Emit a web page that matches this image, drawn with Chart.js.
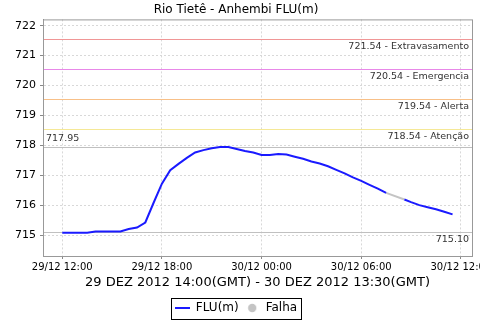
<!DOCTYPE html>
<html>
<head>
<meta charset="utf-8">
<script src="https://cdn.jsdelivr.net/npm/chart.js@4.4.0/dist/chart.umd.min.js"></script>
<style>
  html, body { margin: 0; padding: 0; background: #fff; overflow: hidden; }
  #wrap { width: 480px; height: 324px; }
</style>
</head>
<body>
<div id="wrap"><canvas id="mycanvas" width="480" height="324"></canvas></div>
<script>
// hours counted from 29/12 00:00 (local)
var hours = [12, 12.5, 13, 13.5, 14, 14.5, 15, 15.5, 16, 16.5, 17, 17.5, 18, 18.5, 19, 19.5,
  20, 20.5, 21, 21.5, 22, 22.5, 23, 23.5, 24, 24.5, 25, 25.5, 26, 26.5, 27, 27.5,
  28, 28.5, 29, 29.5, 30, 30.5, 31, 31.5, 32, 32.6, 33, 33.5, 34, 34.5, 35, 35.5];
var flu = [715.08, 715.08, 715.08, 715.08, 715.12, 715.12, 715.12, 715.12, 715.20, 715.25, 715.42, 716.08, 716.72, 717.17, 717.38, 717.58,
  717.76, 717.84, 717.90, 717.94, 717.94, 717.88, 717.81, 717.76, 717.68, 717.68, 717.71, 717.69, 717.62, 717.55, 717.46, 717.39,
  717.30, 717.18, 717.06, 716.93, 716.81, 716.68, 716.55, 716.41, null, 716.19, 716.10, 716.00, 715.93, 715.86, 715.78, 715.69];
var falhaHours = [31.5, 32.6];
var falhaValues = [716.41, 716.19];

var limitValues = [721.54, 720.54, 719.54, 718.54];
var limitNames = ["Extravasamento", "Emergencia", "Alerta", "Atenção"];
var limitColors = ["rgb(240,150,150)", "rgb(232,136,232)", "rgb(248,192,136)", "rgb(245,232,150)"];
var maxValue = 717.95;
var minValue = 715.10;

var xTicks = [12, 18, 24, 30, 36];
var xTickLabels = ["29/12 12:00", "29/12 18:00", "30/12 00:00", "30/12 06:00", "30/12 12:00"];
var yTicks = [715, 716, 717, 718, 719, 720, 721, 722];

var fluPoints = [];
for (var i in hours) {
  fluPoints.push({x: hours[i], y: flu[i]});
}
var falhaPoints = [];
for (var j in falhaHours) {
  falhaPoints.push({x: falhaHours[j], y: falhaValues[j]});
}

var FONT = "'DejaVu Sans', sans-serif";
var BLUE = "#1a1aff";
var GREY = "#c4c4c4";

// small legend markers
function lineMarker(color) {
  var c = document.createElement("canvas");
  c.width = 15; c.height = 2;
  var g = c.getContext("2d");
  g.fillStyle = color; g.fillRect(0, 0, 15, 2);
  return c;
}
function dotMarker(color) {
  var c = document.createElement("canvas");
  c.width = 10; c.height = 10;
  var g = c.getContext("2d");
  g.fillStyle = color; g.beginPath(); g.arc(5, 5, 4.2, 0, Math.PI * 2); g.fill();
  return c;
}
var fluMarker = lineMarker(BLUE);
var falhaMarker = dotMarker(GREY);

var limitsPlugin = {
  id: 'limits',
  beforeDatasetsDraw: function(chart) {
    var ctx = chart.ctx, y = chart.scales.y, a = chart.chartArea;
    ctx.save();
    ctx.setLineDash([]);
    ctx.font = "9.5px " + FONT;
    ctx.textBaseline = "middle";
    for (var k = 0; k < limitValues.length; k++) {
      var py = Math.round(y.getPixelForValue(limitValues[k]));
      ctx.fillStyle = limitColors[k];
      ctx.fillRect(a.left, py, a.right - a.left, 1);
      ctx.fillStyle = "#333";
      ctx.textAlign = "right";
      ctx.fillText(limitValues[k].toFixed(2) + " - " + limitNames[k], a.right - 3, py + 8);
    }
    var pmax = Math.round(y.getPixelForValue(maxValue));
    var pmin = Math.round(y.getPixelForValue(minValue));
    ctx.fillStyle = "#c0c0c0";
    ctx.fillRect(a.left, pmax, a.right - a.left, 1);
    ctx.fillRect(a.left, pmin, a.right - a.left, 1);
    ctx.fillStyle = "#333";
    ctx.textAlign = "left";
    ctx.fillText(maxValue.toFixed(2), a.left + 3, pmax - 8);
    ctx.textAlign = "right";
    ctx.fillText(minValue.toFixed(2), a.right - 3, pmin + 8);
    ctx.restore();
  },
  afterDraw: function(chart) {
    var ctx = chart.ctx, a = chart.chartArea;
    ctx.save();
    ctx.strokeStyle = "#999";
    ctx.lineWidth = 1;
    ctx.strokeRect(a.left + 0.5, a.top + 0.5, a.right - a.left, a.bottom - a.top);
    // legend frame
    var boxes = chart.legend.legendHitBoxes;
    if (boxes && boxes.length) {
      var last = boxes[boxes.length - 1];
      var l = boxes[0].left - 4, r = last.left + last.width + 4;
      var t = boxes[0].top - 4, b = boxes[0].top + boxes[0].height + 5;
      ctx.strokeStyle = "#000";
      ctx.strokeRect(Math.round(l) + 0.5, Math.round(t) + 0.5, Math.round(r - l), Math.round(b - t));
    }
    ctx.restore();
  }
};

var ctx = document.getElementById("mycanvas");
var chart = new Chart(ctx, {
  type: 'line',
  data: {
    datasets: [
      {
        label: "FLU(m)",
        data: fluPoints,
        borderColor: BLUE,
        backgroundColor: BLUE,
        borderWidth: 2,
        pointRadius: 0,
        fill: false,
        spanGaps: false,
        tension: 0
      },
      {
        label: "Falha",
        data: falhaPoints,
        borderColor: GREY,
        backgroundColor: GREY,
        borderWidth: 2,
        pointRadius: 0,
        fill: false,
        tension: 0
      }
    ]
  },
  options: {
    responsive: false,
    animation: false,
    layout: { padding: { left: 0, right: 8, top: 0, bottom: 0 } },
    plugins: {
      title: {
        display: true,
        text: "Rio Tietê - Anhembi FLU(m)",
        color: "#000",
        font: { family: FONT, size: 12, weight: 'normal', lineHeight: 1.2 },
        padding: { top: 3, bottom: 2 }
      },
      legend: {
        position: 'bottom',
        labels: {
          color: "#000",
          font: { family: FONT, size: 12 },
          usePointStyle: true,
          pointStyleWidth: 15,
          padding: 6,
          generateLabels: function(chart) {
            return [
              { text: "FLU(m)", fillStyle: BLUE, strokeStyle: BLUE, lineWidth: 0, pointStyle: fluMarker, datasetIndex: 0, fontColor: "#000" },
              { text: "Falha", fillStyle: GREY, strokeStyle: GREY, lineWidth: 0, pointStyle: falhaMarker, datasetIndex: 1, fontColor: "#000" }
            ];
          }
        }
      },
      tooltip: { enabled: false }
    },
    scales: {
      x: {
        type: 'linear',
        min: 10.84,
        max: 36.67,
        afterBuildTicks: function(scale) {
          scale.ticks = xTicks.map(function(v) { return {value: v}; });
        },
        afterFit: function(scale) {
          scale.height = 40;
          scale.paddingLeft = 0;
          scale.paddingRight = 0;
        },
        ticks: {
          color: "#000",
          font: { family: FONT, size: 10 },
          maxRotation: 0,
          autoSkip: false,
          padding: 2,
          callback: function(value) {
            var idx = xTicks.indexOf(value);
            return idx >= 0 ? xTickLabels[idx] : "";
          }
        },
        grid: {
          color: "#d8d8d8",
          tickColor: "#888",
          tickLength: 3,
          drawTicks: true
        },
        border: { color: "#888", dash: [2, 2] },
        title: {
          display: true,
          text: "29 DEZ 2012 14:00(GMT) - 30 DEZ 2012 13:30(GMT)",
          color: "#000",
          font: { family: FONT, size: 13 },
          padding: { top: 0, bottom: 6 }
        }
      },
      y: {
        min: 714.3,
        max: 722.21,
        afterBuildTicks: function(scale) {
          scale.ticks = yTicks.map(function(v) { return {value: v}; });
        },
        afterFit: function(scale) { scale.width = 43; },
        ticks: {
          color: "#000",
          font: { family: FONT, size: 11 },
          padding: 4,
          callback: function(value) { return value; }
        },
        grid: {
          color: "#d8d8d8",
          tickColor: "#888",
          tickLength: 3
        },
        border: { color: "#888", dash: [2, 2] }
      }
    }
  },
  plugins: [limitsPlugin]
});
</script>
</body>
</html>
